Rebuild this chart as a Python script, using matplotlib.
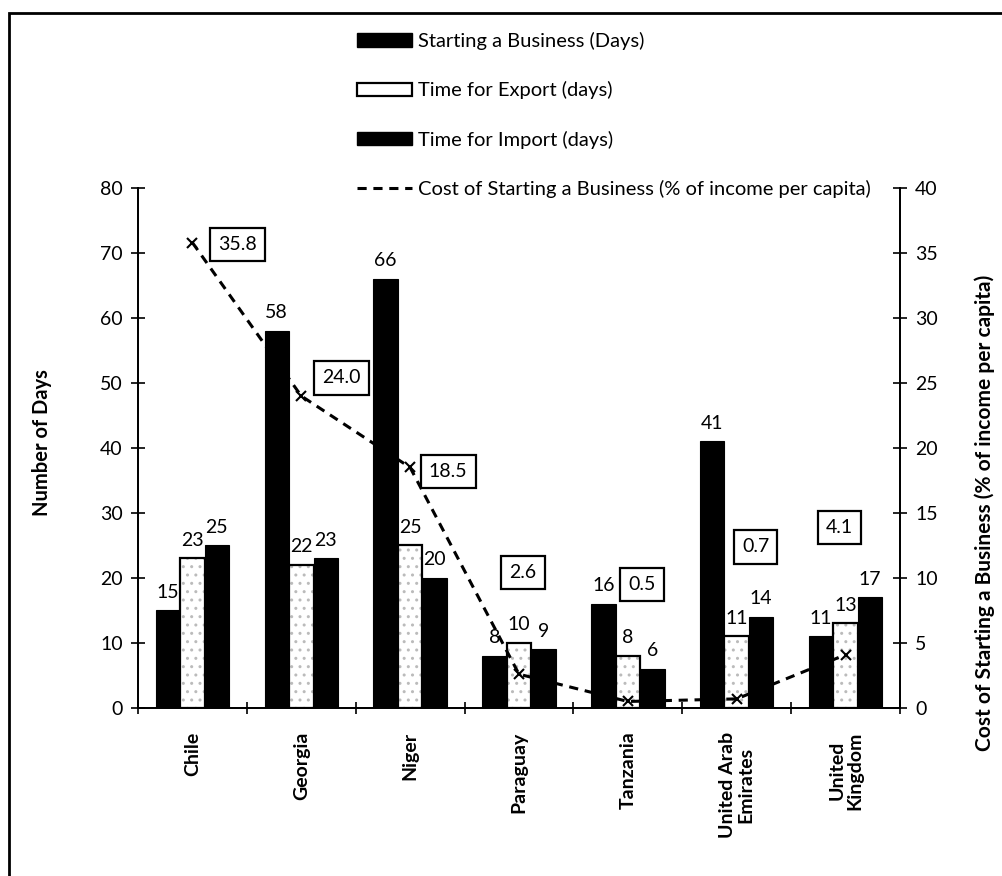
import matplotlib
matplotlib.use("Agg")
import matplotlib.pyplot as plt
import numpy as np
from matplotlib.patches import Patch, Rectangle
from matplotlib.lines import Line2D

countries = ["Chile", "Georgia", "Niger", "Paraguay", "Tanzania",
             "United Arab\nEmirates", "United\nKingdom"]
starting_days = [15, 58, 66, 8, 16, 41, 11]
export_days = [23, 22, 25, 10, 8, 11, 13]
import_days = [25, 23, 20, 9, 6, 14, 17]
cost_pct = [35.8, 24.0, 18.5, 2.6, 0.5, 0.7, 4.1]
left_ticks = [0, 10, 20, 30, 40, 50, 60, 70, 80]
right_ticks = [0, 5, 10, 15, 20, 25, 30, 35, 40]

plt.rcParams['font.family'] = ['Lato', 'DejaVu Sans']

fig = plt.figure(figsize=(10.02, 8.76), dpi=100)
fig.patch.set_facecolor("white")
ax = fig.add_axes([0.1377, 0.1918, 0.7605, 0.5936])
ax2 = ax.twinx()

x = np.arange(len(countries))
w = 0.225
ax.bar(x - w, starting_days, w, color="black", edgecolor="black", linewidth=0.8, zorder=2)
ax.bar(x, export_days, w, color="white", edgecolor="#bbbbbb", hatch="..", linewidth=0, zorder=2)
ax.bar(x, export_days, w, color="none", edgecolor="black", linewidth=1.6, zorder=3)
ax.bar(x + w, import_days, w, color="black", edgecolor="black", linewidth=0.8, zorder=2)

for off, vals in ((-w, starting_days), (0, export_days), (w, import_days)):
    for xi, v in zip(x, vals):
        ax.annotate(str(v), (xi + off, v), xytext=(0, 7), textcoords="offset points",
                    ha="center", va="bottom", fontsize=14)

ax.set_xlim(-0.5, len(countries) - 0.5)
ax.set_ylim(0, 80)
ax.set_yticks(left_ticks)
ax.set_xticks(np.arange(len(countries) + 1) - 0.5, minor=True)
ax.set_xticks(x)
ax.set_xticklabels(countries, rotation=90, fontsize=14, fontweight="bold", linespacing=1.05)
ax.tick_params(axis="x", which="major", length=0, pad=17)
ax.tick_params(axis="x", which="minor", length=8, direction="inout", width=1.2)
ax.tick_params(axis="y", length=10, direction="inout", width=1.2, labelsize=14, pad=6)
ax.set_ylabel("Number of Days", fontsize=14.5, fontweight="bold")
ax.yaxis.label.set_va("center")
ax.yaxis.set_label_coords(-0.126, 0.51)

ax2.plot(x, cost_pct, linestyle=(0, (3, 2.2)), color="black", linewidth=2.2,
         marker="x", markersize=7, markeredgewidth=1.5, zorder=4)
ax2.set_ylim(0, 40)
ax2.set_yticks(right_ticks)
ax2.tick_params(axis="y", length=10, direction="inout", width=1.2, labelsize=14, pad=6)
ax2.set_ylabel("Cost of Starting a Business (% of income per capita)",
               fontsize=15, fontweight="bold")
ax2.yaxis.label.set_va("center")
ax2.yaxis.set_label_coords(1.1115, 0.375)

offsets = [(45, -2), (40, 18), (38, -4), (4, 102), (14, 117), (19, 152), (-6, 127)]
for xi, v, (dx, dy) in zip(x, cost_pct, offsets):
    ax2.annotate(f"{v:.1f}", (xi, v), xytext=(dx, dy), textcoords="offset pixels",
                 ha="center", va="center", fontsize=14,
                 bbox=dict(boxstyle="square,pad=0.42", fc="white", ec="black", lw=1.6),
                 zorder=5)

for a in (ax, ax2):
    a.spines["top"].set_visible(False)
    for s in ("left", "right", "bottom"):
        a.spines[s].set_linewidth(1.3)
ax.set_zorder(ax2.get_zorder() - 1)
ax.patch.set_visible(False)

handles = [Patch(facecolor="black", edgecolor="black"),
           Patch(facecolor="white", edgecolor="black", linewidth=1.6),
           Patch(facecolor="black", edgecolor="black"),
           Line2D([], [], linestyle=(0, (3, 2.2)), color="black", linewidth=2.2)]
labels = ["Starting a Business (Days)", "Time for Export (days)",
          "Time for Import (days)", "Cost of Starting a Business (% of income per capita)"]
fig.legend(handles, labels, loc="upper left", bbox_to_anchor=(357 / 1002, 1 - 32 / 876),
           frameon=False, fontsize=14.5, handlelength=2.75, handleheight=0.65,
           handletextpad=0.3, labelspacing=1.55, borderpad=0, borderaxespad=0)

fig.add_artist(Rectangle((9 / 1002, -0.05), 1.5, 1 - 13 / 876 + 0.05, transform=fig.transFigure,
                         fill=False, edgecolor="black", linewidth=2))

fig.savefig("out.png", dpi=100, facecolor="white")
